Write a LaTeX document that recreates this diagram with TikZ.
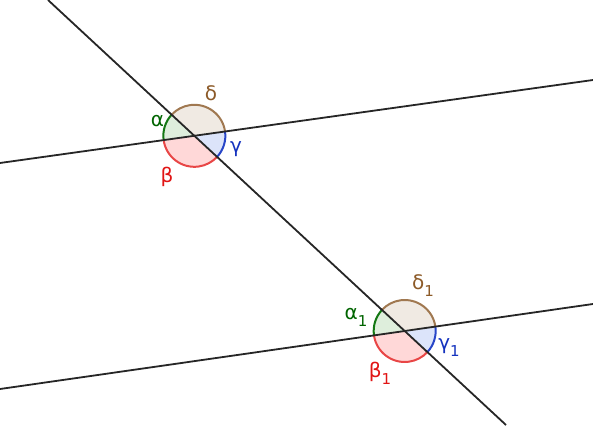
\documentclass[tikz,border=0pt]{standalone}
\usepackage{fontspec}
\setmainfont{DejaVu Sans}
\definecolor{gline}{RGB}{20,120,20}
\definecolor{gfill}{RGB}{222,238,220}
\definecolor{bline}{RGB}{160,120,80}
\definecolor{bfill}{RGB}{240,234,227}
\definecolor{rline}{RGB}{232,70,70}
\definecolor{rfill}{RGB}{255,216,216}
\definecolor{cline}{RGB}{40,70,200}
\definecolor{cfill}{RGB}{220,228,250}
\definecolor{gtext}{RGB}{0,100,0}
\definecolor{btext}{RGB}{140,90,40}
\definecolor{rtext}{RGB}{225,20,20}
\definecolor{ctext}{RGB}{20,50,190}
\newcommand\subno[1]{\raisebox{-7pt}{\fontsize{15}{17}\selectfont #1}}
\begin{document}
\begin{tikzpicture}[x=1pt,y=1pt]

\tikzstyle{ln} = [line width=1.8pt, color=black!85]
\tikzstyle{sec} = [line width=2pt]
\tikzstyle{lb} = [inner sep=0pt, font=\fontsize{20}{24}\selectfont]

\useasboundingbox (0,0) rectangle (593,425);

\coordinate (A1) at (0,262);
\coordinate (B1) at (593,345);
\coordinate (A2) at (0,36);
\coordinate (B2) at (593,121);
\coordinate (T1) at (48,425);
\coordinate (T2) at (506,0);
\coordinate (P1) at (intersection of A1--B1 and T1--T2);
\coordinate (P2) at (intersection of A2--B2 and T1--T2);

% angle sectors
\foreach \p in {P1,P2}{
  \fill[gfill] (\p) -- ++(137:31) arc (137:188:31) -- cycle;
  \fill[bfill] (\p) -- ++(8:31) arc (8:137:31) -- cycle;
  \fill[rfill] (\p) -- ++(188:31) arc (188:317:31) -- cycle;
  \fill[cfill] (\p) -- ++(317:31) arc (317:368:31) -- cycle;
  \draw[sec,gline] (\p) ++(137:31) arc (137:188:31);
  \draw[sec,bline] (\p) ++(8:31) arc (8:137:31);
  \draw[sec,rline] (\p) ++(188:31) arc (188:317:31);
  \draw[sec,cline] (\p) ++(317:31) arc (317:368:31);
}

% lines
\draw[ln] (A1) -- (B1);
\draw[ln] (A2) -- (B2);
\draw[ln] (T1) -- (T2);

% labels
\node[lb,text=btext] (d) at (211,332) {δ};
\node[lb,text=gtext] (a) at (157.5,304) {α};
\node[lb,text=ctext] (c) at (236,276) {γ};
\node[lb,text=rtext] (b) at (167,248) {β};

\node[lb,text=btext] (d1) at (423,139) {δ\subno{1}};
\node[lb,text=gtext] (a1) at (356,107.5) {α\subno{1}};
\node[lb,text=ctext] (c1) at (449,77.5) {γ\subno{1}};
\node[lb,text=rtext] (b1) at (380,51.7) {β\subno{1}};
\end{tikzpicture}
\end{document}
